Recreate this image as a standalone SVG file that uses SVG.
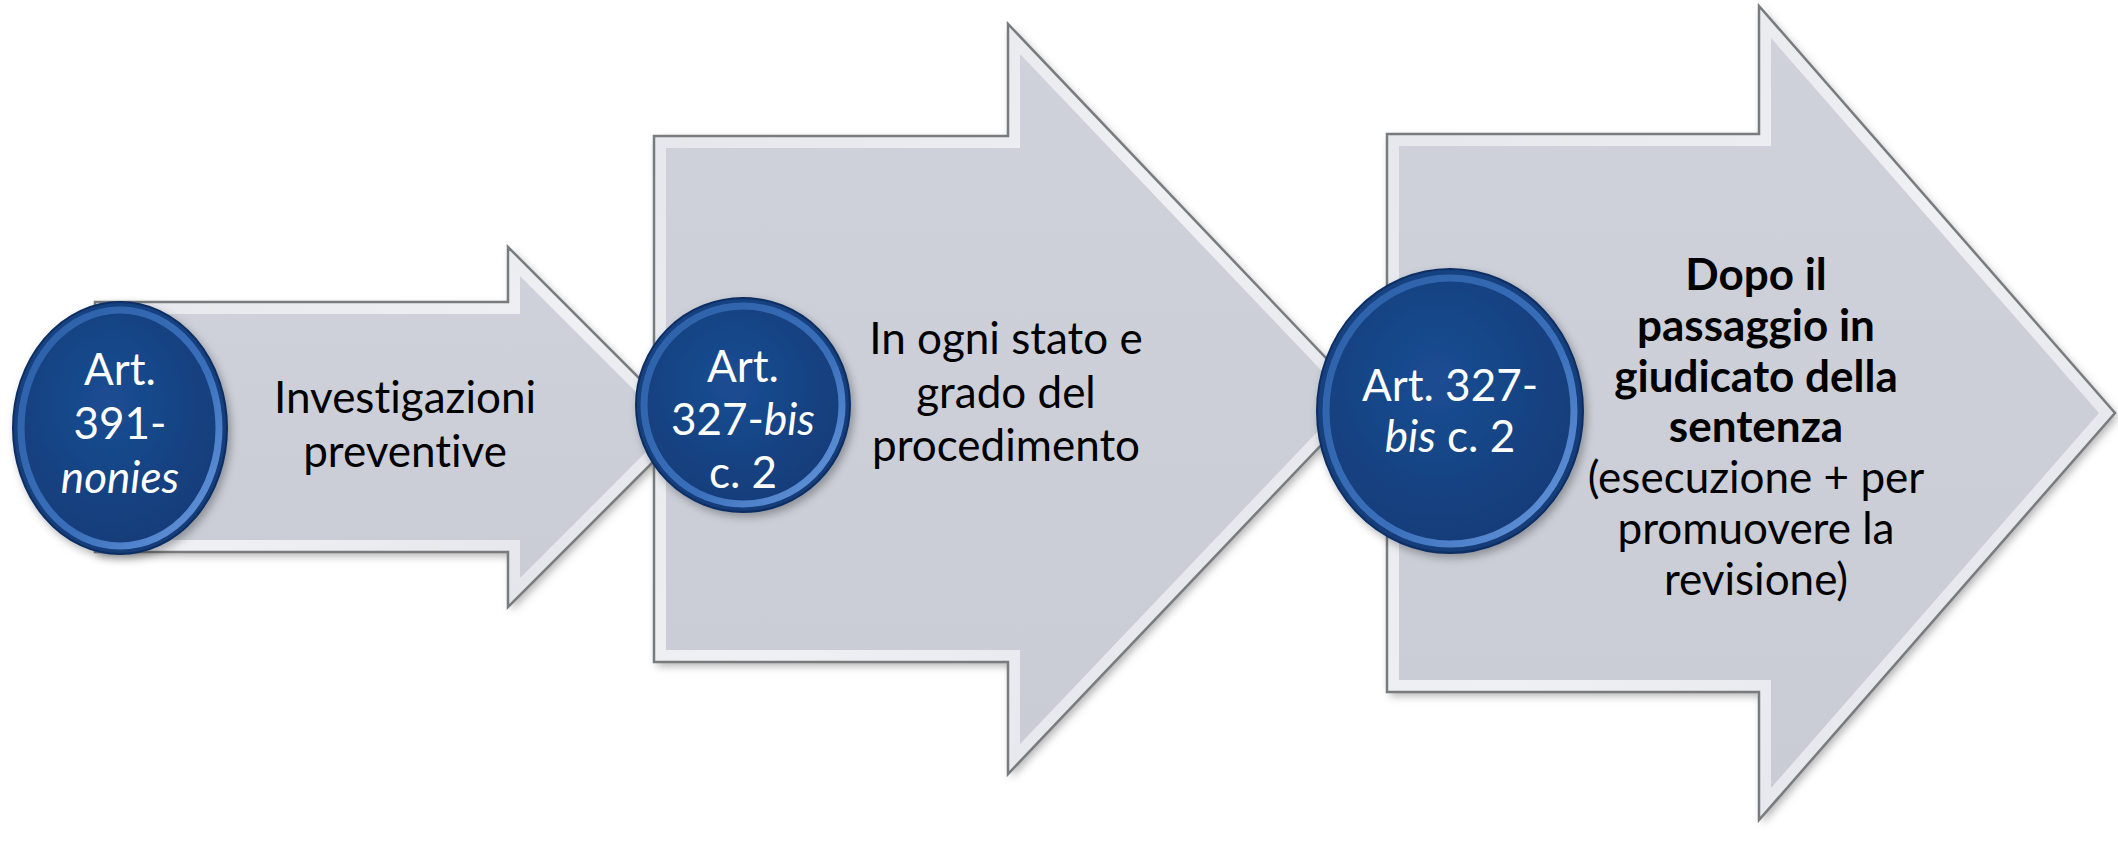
<svg xmlns="http://www.w3.org/2000/svg" xmlns:xlink="http://www.w3.org/1999/xlink" width="2118" height="855" viewBox="0 0 2118 855">
<style>
.t{font-family:Lato,"Open Sans","Liberation Sans",sans-serif;font-size:44px;text-anchor:middle;fill:#000;font-variant-ligatures:none}
.w{fill:#fff}
.b{font-weight:bold}
.i{font-style:italic}
.edge{fill:none;stroke:#7a7b7e;stroke-width:2.5}
.band{stroke:url(#bandG);stroke-width:24}
.ring{fill:none;stroke:url(#ringG);stroke-width:7}
.cedge{stroke:#0f2f63;stroke-width:2}
</style>
<defs>
<linearGradient id="arrowFill" x1="0" y1="0" x2="0" y2="1">
<stop offset="0" stop-color="#cfd2da"/>
<stop offset="1" stop-color="#c9ccd4"/>
</linearGradient>
<linearGradient id="bandG" x1="0" y1="0" x2="1" y2="1">
<stop offset="0" stop-color="#e4e6eb"/>
<stop offset="0.5" stop-color="#eef0f4"/>
<stop offset="1" stop-color="#dfe1e7"/>
</linearGradient>
<radialGradient id="discG" cx="0.45" cy="0.4" r="0.6">
<stop offset="0" stop-color="#1b4d93"/>
<stop offset="1" stop-color="#123c78"/>
</radialGradient>
<linearGradient id="ringG" x1="0" y1="0" x2="1" y2="1">
<stop offset="0" stop-color="#2b5fa6"/>
<stop offset="0.6" stop-color="#3a70bb"/>
<stop offset="1" stop-color="#6b9be0"/>
</linearGradient>
<filter id="sh" x="-10%" y="-10%" width="125%" height="125%">
<feDropShadow dx="3" dy="4" stdDeviation="4" flood-color="#000" flood-opacity="0.3"/>
</filter>
<polygon id="p1" points="95,302 508,302 508,247 688,427 508,607 508,552 95,552"/>
<polygon id="p2" points="654,136 1008,136 1008,24 1365,399 1008,774 1008,662 654,662"/>
<polygon id="p3" points="1387,134 1759,134 1759,6 2115,413 1759,820 1759,692 1387,692"/>
<clipPath id="c1"><use xlink:href="#p1"/></clipPath>
<clipPath id="c2"><use xlink:href="#p2"/></clipPath>
<clipPath id="c3"><use xlink:href="#p3"/></clipPath>
</defs>
<rect width="2118" height="855" fill="#fff"/>

<g id="arrow1">
<use xlink:href="#p1" fill="url(#arrowFill)" filter="url(#sh)"/>
<g clip-path="url(#c1)"><use xlink:href="#p1" fill="none" class="band"/></g>
<use xlink:href="#p1" class="edge"/>
<text class="t" x="405" y="413">Investigazioni</text>
<text class="t" x="405" y="467">preventive</text>
</g>

<g id="circle1">
<ellipse cx="120" cy="428" rx="107" ry="126" fill="url(#discG)" class="cedge" filter="url(#sh)"/>
<ellipse cx="120" cy="428" rx="99" ry="118" class="ring"/>
<text class="t w" x="120" y="385">Art.</text>
<text class="t w" x="120" y="439">391-</text>
<text class="t w i" x="120" y="493">nonies</text>
</g>

<g id="arrow2">
<use xlink:href="#p2" fill="url(#arrowFill)" filter="url(#sh)"/>
<g clip-path="url(#c2)"><use xlink:href="#p2" fill="none" class="band"/></g>
<use xlink:href="#p2" class="edge"/>
<text class="t" x="1006" y="354">In ogni stato e</text>
<text class="t" x="1006" y="408">grado del</text>
<text class="t" x="1006" y="461">procedimento</text>
</g>

<g id="circle2">
<circle cx="743" cy="405" r="107" fill="url(#discG)" class="cedge" filter="url(#sh)"/>
<circle cx="743" cy="405" r="99" class="ring"/>
<text class="t w" x="743" y="382">Art.</text>
<text class="t w" x="743" y="435">327-<tspan class="i">bis</tspan></text>
<text class="t w" x="743" y="488">c. 2</text>
</g>

<g id="arrow3">
<use xlink:href="#p3" fill="url(#arrowFill)" filter="url(#sh)"/>
<g clip-path="url(#c3)"><use xlink:href="#p3" fill="none" class="band"/></g>
<use xlink:href="#p3" class="edge"/>
<text class="t b" x="1756" y="290">Dopo il</text>
<text class="t b" x="1756" y="341">passaggio in</text>
<text class="t b" x="1756" y="392">giudicato della</text>
<text class="t b" x="1756" y="442">sentenza</text>
<text class="t" x="1756" y="493">(esecuzione + per</text>
<text class="t" x="1756" y="544">promuovere la</text>
<text class="t" x="1756" y="595">revisione)</text>
</g>

<g id="circle3">
<ellipse cx="1450" cy="411" rx="133" ry="142" fill="url(#discG)" class="cedge" filter="url(#sh)"/>
<ellipse cx="1450" cy="411" rx="124" ry="133" class="ring"/>
<text class="t w" x="1450" y="401">Art. 327-</text>
<text class="t w" x="1450" y="452"><tspan class="i">bis</tspan> c. 2</text>
</g>

<g id="connectors"></g>
</svg>
